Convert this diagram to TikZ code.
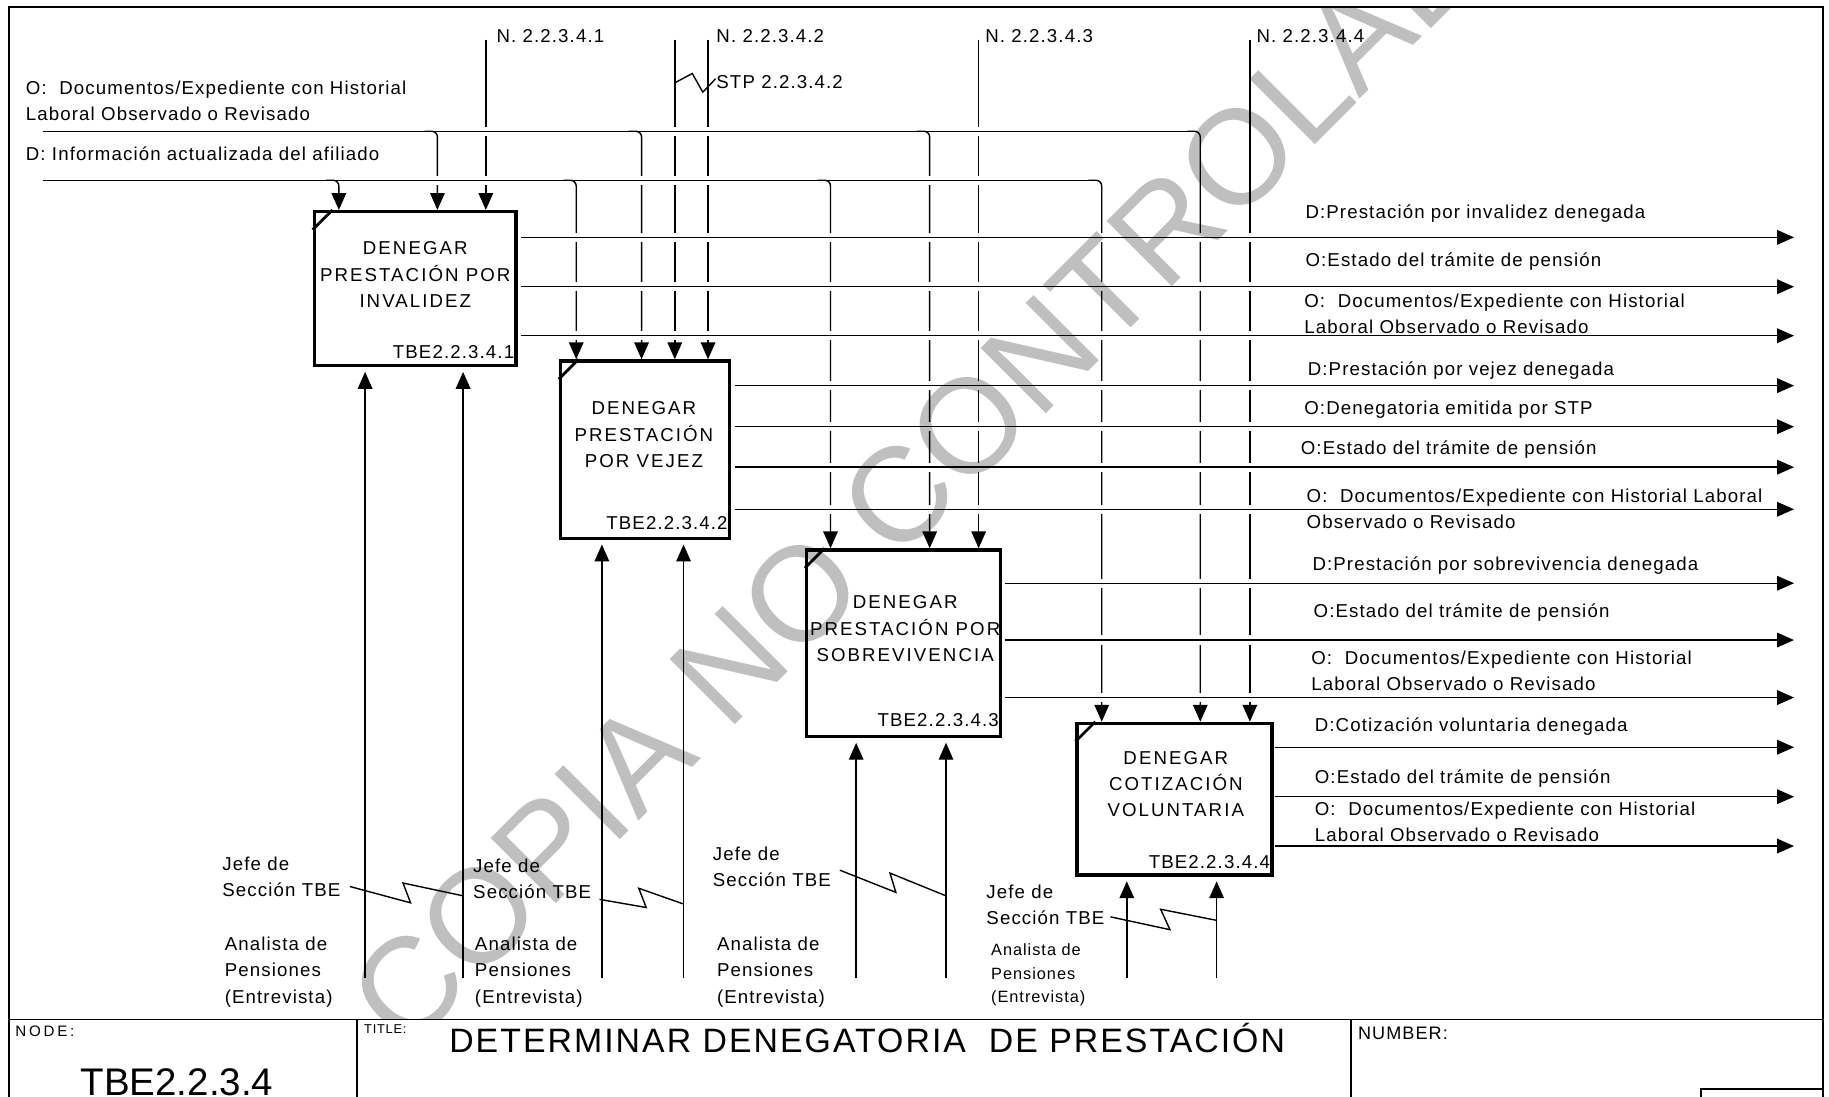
\documentclass[tikz,border=0pt]{standalone}
\usepackage{fontspec}
\setmainfont{Liberation Sans}
\newfontfamily\lblfont[LetterSpace=6]{Liberation Sans}
\newfontfamily\boxfont[LetterSpace=11]{Liberation Sans}
\newfontfamily\wideFont[LetterSpace=18]{Liberation Sans}
\usetikzlibrary{arrows.meta}
\begin{document}
\begin{tikzpicture}[x=1pt,y=-1pt,
  ln/.style={line width=1.2pt},
  halo/.style={ln,preaction={draw=white,line width=8pt,-}},
  tipd/.style={-{Triangle[length=14.5pt,width=12.5pt]}},
  actbox/.style={draw,line width=2.8pt,inner sep=0pt,anchor=north west},
  corner/.style={line width=2.4pt},
  frm/.style={line width=1.6pt},
  lbl/.style={font=\lblfont\fontsize{16}{22.7}\selectfont,anchor=base west,inner sep=0pt,align=left},
  slbl/.style={font=\lblfont\fontsize{14}{20}\selectfont,anchor=base west,inner sep=0pt,align=left},
  btxt/.style={font=\boxfont\fontsize{16}{22.5}\selectfont,anchor=base,inner sep=0pt,align=center},
  idtxt/.style={font=\lblfont\fontsize{16}{19}\selectfont,anchor=base east,inner sep=0pt},
]
\useasboundingbox (0,0) rectangle (1568,940.4);

% ---------- frame and title block ----------
\draw[frm] (8,946) -- (8,6) -- (1563,6) -- (1563,946);
\draw[frm] (8,874) -- (1563,874);
\draw[frm] (306,874) -- (306,946);
\draw[frm] (1158,874) -- (1158,946);
\draw[frm] (1458,933.5) rectangle (1563,950);
\node[font=\wideFont\fontsize{13}{15}\selectfont,anchor=base west,inner sep=0pt] (nodelbl) at (13,889) {NODE:};
\node[font=\fontsize{33}{35}\selectfont,anchor=base west,inner sep=0pt] (nodenum) at (69,939) {TBE2.2.3.4};
\node[font=\lblfont\fontsize{11}{13}\selectfont,anchor=base west,inner sep=0pt] (titlelbl) at (312,886) {TITLE:};
\node[font=\lblfont\fontsize{29}{31}\selectfont,anchor=base west,inner sep=0pt] (title) at (385,902) {DETERMINAR DENEGATORIA\ \ DE PRESTACIÓN};
\node[font=\lblfont\fontsize{15.5}{17}\selectfont,anchor=base west,inner sep=0pt] (numlbl) at (1164,891.5) {NUMBER:};

% ---------- activity boxes ----------
\node[actbox,minimum width=173pt,minimum height=132pt] (b1) at (268,180) {};
\node[actbox,minimum width=145pt,minimum height=152pt] (b2) at (479,308) {};
\node[actbox,minimum width=166.5pt,minimum height=160pt] (b3) at (690,470) {};
\node[actbox,minimum width=167pt,minimum height=130pt] (b4) at (922,618.7) {};
\foreach \b in {b1,b2,b3,b4}
  \draw[corner] ([yshift=-17pt]\b.north west) -- ([xshift=17pt]\b.north west);

% ---------- control (call) lines ----------
\coordinate (n1top) at (416.5,34);
\coordinate (stptop) at (578.5,34);
\coordinate (n2top) at (607,34);
\coordinate (n3top) at (839,34);
\coordinate (n4top) at (1071.5,34);
\draw[ln,tipd] (n1top) -- (n1top |- b1.north);
\draw[ln,tipd] (stptop) -- (stptop |- b2.north);
\draw[ln,tipd] (n2top) -- (n2top |- b2.north);
\draw[ln,tipd] (n3top) -- (n3top |- b3.north);
\draw[ln,tipd] (n4top) -- (n4top |- b4.north);
\draw[ln] (578.5,71) -- (593.5,63) -- (602.5,79) -- (613.5,67.5);

% ---------- input O line ----------
\coordinate (oin) at (37,112.5);
\draw[halo] (oin) -- (1022,112.5);
\draw[ln,tipd,rounded corners=5pt] (1018,112.5) -- (1029,112.5) -- (1029,0 |- b4.north);
\draw[ln,tipd,rounded corners=5pt] (364,112.5) -- (375,112.5) -- (375,0 |- b1.north);
\draw[ln,tipd,rounded corners=5pt] (539,112.5) -- (550,112.5) -- (550,0 |- b2.north);
\draw[ln,tipd,rounded corners=5pt] (786,112.5) -- (797,112.5) -- (797,0 |- b3.north);

% ---------- input D line ----------
\coordinate (din) at (37,154.5);
\draw[halo] (din) -- (938,154.5);
\draw[ln,tipd,rounded corners=5pt] (933,154.5) -- (944.5,154.5) -- (944.5,0 |- b4.north);
\draw[ln,tipd,rounded corners=5pt] (279.5,154.5) -- (290.5,154.5) -- (290.5,0 |- b1.north);
\draw[ln,tipd,rounded corners=5pt] (483,154.5) -- (494,154.5) -- (494,0 |- b2.north);
\draw[ln,tipd,rounded corners=5pt] (701,154.5) -- (712,154.5) -- (712,0 |- b3.north);

% ---------- outputs ----------
\draw[halo,tipd] (447,203.5) -- (1538,203.5);
\draw[halo,tipd] (447,245.8) -- (1538,245.8);
\draw[halo,tipd] (447,287.8) -- (1538,287.8);
\draw[halo,tipd] (630,330.6) -- (1538,330.6);
\draw[halo,tipd] (630,365.8) -- (1538,365.8);
\draw[halo,tipd] (630,400.5) -- (1538,400.5);
\draw[halo,tipd] (630,436.6) -- (1538,436.6);
\draw[halo,tipd] (862,500) -- (1538,500);
\draw[halo,tipd] (862,548.7) -- (1538,548.7);
\draw[halo,tipd] (862,598) -- (1538,598);
\draw[halo,tipd] (1093,640.6) -- (1538,640.6);
\draw[halo,tipd] (1093,683) -- (1538,683);
\draw[halo,tipd] (1093,725.3) -- (1538,725.3);

% ---------- mechanisms ----------
\foreach \x/\b in {313/b1,397/b1,516/b2,586/b2,734/b3,811/b3,966/b4,1043/b4}
  \draw[ln,tipd,shorten >=4pt] (\x,838.5) -- (\x,0 |- \b.south);
\draw[ln] (300,760) -- (352,774) -- (345.5,757) -- (397,768);
\draw[ln] (514,771) -- (554,778) -- (547.6,761.5) -- (586,775);
\draw[ln] (720,746) -- (768,765) -- (763,748.5) -- (811,768);
\draw[ln] (952,786) -- (1003,797) -- (995,779.5) -- (1043,789);

% ---------- texts (base anchor = baseline of last line) ----------
\node[lbl] (tn1) at (425.5,36.7) {N. 2.2.3.4.1};
\node[lbl] (tn2) at (614,36.7) {N. 2.2.3.4.2};
\node[lbl] (tstp) at (614,75.7) {STP 2.2.3.4.2};
\node[lbl] (tn3) at (844.5,36.7) {N. 2.2.3.4.3};
\node[lbl] (tn4) at (1077,36.7) {N. 2.2.3.4.4};
\node[lbl] (to) at (22,103.6) {O:~ Documentos/Expediente con Historial\\Laboral Observado o Revisado};
\node[lbl] (td) at (22,137.8) {D: Información actualizada del afiliado};

\node[btxt] (t1) at (356,263.5) {DENEGAR\\PRESTACIÓN POR\\INVALIDEZ};
\node[btxt] (t2) at (552,400.7) {DENEGAR\\PRESTACIÓN\\POR VEJEZ};
\node[btxt] (t3) at (776,567) {DENEGAR\\PRESTACIÓN POR\\SOBREVIVENCIA};
\node[btxt] (t4) at (1008,700) {DENEGAR\\COTIZACIÓN\\VOLUNTARIA};
\node[idtxt] (i1) at (441,307.2) {TBE2.2.3.4.1};
\node[idtxt] (i2) at (624,453.7) {TBE2.2.3.4.2};
\node[idtxt] (i3) at (856.5,623) {TBE2.2.3.4.3};
\node[idtxt] (i4) at (1089,744.4) {TBE2.2.3.4.4};

\node[lbl] (o11) at (1119,187) {D:Prestación por invalidez denegada};
\node[lbl] (o12) at (1119,228.5) {O:Estado del trámite de pensión};
\node[lbl] (o13) at (1118,286.2) {O:~ Documentos/Expediente con Historial\\Laboral Observado o Revisado};
\node[lbl] (o21) at (1121,322) {D:Prestación por vejez denegada};
\node[lbl] (o22) at (1118,355.5) {O:Denegatoria emitida por STP};
\node[lbl] (o23) at (1115,389.5) {O:Estado del trámite de pensión};
\node[lbl] (o24) at (1120,453.2) {O:~ Documentos/Expediente con Historial Laboral\\Observado o Revisado};
\node[lbl] (o31) at (1125,489.5) {D:Prestación por sobrevivencia denegada};
\node[lbl] (o32) at (1126,529.5) {O:Estado del trámite de pensión};
\node[lbl] (o33) at (1124,592.2) {O:~ Documentos/Expediente con Historial\\Laboral Observado o Revisado};
\node[lbl] (o41) at (1127,627) {D:Cotización voluntaria denegada};
\node[lbl] (o42) at (1127,671.5) {O:Estado del trámite de pensión};
\node[lbl] (o43) at (1127,721.7) {O:~ Documentos/Expediente con Historial\\Laboral Observado o Revisado};

\node[lbl] (j1) at (190.5,768.6) {Jefe de\\Sección TBE};
\node[lbl] (j2) at (405.5,770.5) {Jefe de\\Sección TBE};
\node[lbl] (j3) at (611,760.3) {Jefe de\\Sección TBE};
\node[lbl] (j4) at (845.5,792.7) {Jefe de\\Sección TBE};
\node[lbl] (a1) at (192.5,860) {Analista de\\Pensiones\\(Entrevista)};
\node[lbl] (a2) at (407,860) {Analista de\\Pensiones\\(Entrevista)};
\node[lbl] (a3) at (614.5,860) {Analista de\\Pensiones\\(Entrevista)};
\node[slbl] (a4) at (849.5,859.4) {Analista de\\Pensiones\\(Entrevista)};

% ---------- watermark ----------
\begin{scope}[blend mode=multiply]
  \clip (8,6) rectangle (1563,874);
  \node[font=\fontsize{115}{115}\selectfont,text=black!25,rotate=45,anchor=base west,inner sep=0pt] (wm) at (348,903.4) {COPIA NO CONTROLADA};
\end{scope}
\end{tikzpicture}
\end{document}
